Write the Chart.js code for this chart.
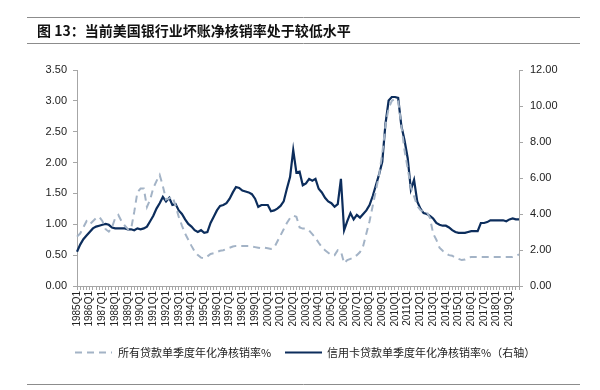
<!DOCTYPE html>
<html>
<head>
<meta charset="utf-8">
<script src="https://cdn.jsdelivr.net/npm/chart.js@4.4.0/dist/chart.umd.min.js"></script>
<style>
  html, body { margin: 0; padding: 0; background: #fff; }
  #wrap { width: 600px; height: 390px; position: relative; }
</style>
</head>
<body>
<div id="wrap"><canvas id="nco"></canvas></div>
<script>
// --- Data (quarterly, 1985Q1 - 2019Q4) ---
const startYear = 1985;
const endYear = 2019;

// All loans, annualized net charge-off rate % (left axis)
const allLoans = [
  0.80, 0.85, 0.95, 1.05, 1.00, 1.05, 1.10, 1.12, 1.05, 0.92,
  0.88, 0.95, 1.10, 1.15, 1.05, 0.98, 0.92, 0.92, 1.20, 1.52,
  1.58, 1.58, 1.28, 1.40, 1.59, 1.70, 1.80, 1.62, 1.40, 1.42,
  1.45, 1.30, 1.12, 0.98, 0.85, 0.75, 0.65, 0.56, 0.50, 0.46,
  0.45, 0.48, 0.52, 0.53, 0.55, 0.57, 0.58, 0.60, 0.62, 0.64,
  0.65, 0.65, 0.65, 0.65, 0.65, 0.64, 0.63, 0.62, 0.61, 0.62,
  0.61, 0.60, 0.62, 0.72, 0.82, 0.92, 1.02, 1.10, 1.14, 1.12,
  0.95, 0.93, 0.93, 0.90, 0.84, 0.78, 0.70, 0.63, 0.58, 0.54,
  0.50, 0.50, 0.58, 0.56, 0.37, 0.42, 0.44, 0.46, 0.50, 0.55,
  0.65, 0.85, 1.05, 1.30, 1.55, 1.80, 2.15, 2.60, 2.88, 3.00,
  3.03, 3.00, 2.60, 2.20, 1.90, 1.60, 1.45, 1.30, 1.23, 1.20,
  1.20, 1.10, 0.85, 0.75, 0.62, 0.57, 0.53, 0.50, 0.49, 0.46,
  0.44, 0.42, 0.43, 0.46, 0.47, 0.47, 0.47, 0.47, 0.47, 0.47,
  0.47, 0.47, 0.47, 0.47, 0.47, 0.47, 0.47, 0.47, 0.49, 0.51
];

// Credit card loans, annualized net charge-off rate % (right axis)
const creditCard = [
  1.90, 2.30, 2.60, 2.80, 3.00, 3.20, 3.30, 3.35, 3.40, 3.45,
  3.40, 3.25, 3.20, 3.20, 3.20, 3.20, 3.15, 3.15, 3.10, 3.20,
  3.15, 3.20, 3.30, 3.60, 3.90, 4.30, 4.60, 4.95, 4.70, 4.90,
  4.50, 4.55, 4.20, 4.00, 3.70, 3.45, 3.30, 3.10, 3.00, 3.10,
  2.95, 3.00, 3.50, 3.85, 4.20, 4.45, 4.50, 4.60, 4.85, 5.20,
  5.50, 5.45, 5.30, 5.25, 5.20, 5.10, 4.85, 4.40, 4.50, 4.50,
  4.50, 4.15, 4.20, 4.30, 4.45, 4.70, 5.40, 6.05, 7.55, 6.30,
  6.35, 5.60, 5.70, 5.95, 5.85, 5.95, 5.40, 5.20, 4.90, 4.70,
  4.60, 4.40, 4.55, 5.95, 3.10, 3.60, 4.05, 3.70, 3.95, 3.80,
  4.00, 4.20, 4.50, 5.00, 5.60, 6.20, 6.90, 9.00, 10.30, 10.50,
  10.50, 10.45, 8.90, 8.10, 7.10, 5.35, 5.90, 4.70, 4.30, 4.05,
  4.00, 3.90, 3.75, 3.50, 3.40, 3.35, 3.35, 3.25, 3.10, 3.00,
  2.95, 2.95, 2.95, 3.00, 3.05, 3.05, 3.05, 3.50, 3.50, 3.55,
  3.65, 3.65, 3.65, 3.65, 3.65, 3.60, 3.70, 3.75, 3.70, 3.70
];

const quarters = [];
for (let y = startYear; y <= endYear; y++) {
  for (let q = 1; q <= 4; q++) quarters.push(y + 'Q' + q);
}

const leftTicks = [0, 0.5, 1, 1.5, 2, 2.5, 3, 3.5];
const rightTicks = [0, 2, 4, 6, 8, 10, 12];

const titleText = '图 13：当前美国银行业坏账净核销率处于较低水平';
const legendAll = '所有贷款单季度年化净核销率%';
const legendCard = '信用卡贷款单季度年化净核销率%（右轴）';

const navy = '#0c2d5c';
const paleBlue = '#a3b3c6';
const axisGray = '#a6a6a6';
const latin = '"Liberation Sans", Arial, sans-serif';
const cjk = '"Noto Sans CJK SC", sans-serif';

// --- Title, rules and legend drawn around the chart ---
const frame = {
  id: 'frame',
  afterDraw(chart) {
    const ctx = chart.ctx;
    ctx.save();
    ctx.strokeStyle = '#8c8c8c';
    ctx.lineWidth = 1;
    [[17.5, 27, 580], [43.5, 27, 580], [384.5, 27, 580]].forEach(([y, x0, x1]) => {
      ctx.beginPath(); ctx.moveTo(x0, y); ctx.lineTo(x1, y); ctx.stroke();
    });

    ctx.fillStyle = '#111';
    ctx.font = 'bold 14px ' + cjk;
    ctx.textBaseline = 'middle';
    ctx.fillText(titleText, 37, 31);

    // legend
    const ly = 352.5;
    ctx.lineWidth = 2;
    ctx.strokeStyle = paleBlue;
    ctx.setLineDash([7, 5]);
    ctx.beginPath(); ctx.moveTo(75, ly); ctx.lineTo(112, ly); ctx.stroke();
    ctx.setLineDash([]);
    ctx.strokeStyle = navy;
    ctx.beginPath(); ctx.moveTo(285, ly); ctx.lineTo(322, ly); ctx.stroke();

    ctx.fillStyle = '#222';
    ctx.font = '11px ' + cjk;
    ctx.fillText(legendAll, 118, ly);
    ctx.fillText(legendCard, 327, ly);
    ctx.restore();
  }
};

const ctx = document.getElementById('nco').getContext('2d');
new Chart(ctx, {
  type: 'line',
  data: {
    labels: quarters,
    datasets: [
      {
        label: legendAll,
        data: allLoans,
        yAxisID: 'yL',
        borderColor: paleBlue,
        borderWidth: 2,
        borderDash: [7, 5],
        pointRadius: 0,
        tension: 0,
        fill: false
      },
      {
        label: legendCard,
        data: creditCard,
        yAxisID: 'yR',
        borderColor: navy,
        borderWidth: 2.2,
        pointRadius: 0,
        tension: 0,
        fill: false
      }
    ]
  },
  options: {
    responsive: true,
    maintainAspectRatio: false,
    animation: false,
    layout: { padding: { top: 70, left: 0, right: 0, bottom: 0 } },
    plugins: {
      legend: { display: false },
      tooltip: { enabled: false }
    },
    scales: {
      x: {
        offset: false,
        grid: { drawOnChartArea: false, tickLength: 4, color: axisGray },
        border: { color: axisGray },
        ticks: {
          autoSkip: false,
          minRotation: 90,
          maxRotation: 90,
          padding: 1,
          color: '#222',
          font: { family: latin, size: 10 },
          callback: function (v, i) {
            const l = quarters[i];
            return l.endsWith('Q1') ? l : '';
          }
        },
        afterFit: s => { s.height = 104; }
      },
      yL: {
        position: 'left',
        min: 0, max: 3.5,
        afterBuildTicks: s => { s.ticks = leftTicks.map(v => ({ value: v })); },
        grid: { drawOnChartArea: false, tickLength: 4, color: axisGray },
        border: { color: axisGray },
        ticks: {
          padding: 6,
          color: '#222',
          font: { family: latin, size: 11 },
          callback: v => v.toFixed(2)
        },
        afterFit: s => { s.width = 77; }
      },
      yR: {
        position: 'right',
        min: 0, max: 12,
        afterBuildTicks: s => { s.ticks = rightTicks.map(v => ({ value: v })); },
        grid: { drawOnChartArea: false, tickLength: 4, color: axisGray },
        border: { color: axisGray },
        ticks: {
          padding: 7,
          color: '#222',
          font: { family: latin, size: 11 },
          callback: v => v.toFixed(2)
        },
        afterFit: s => { s.width = 81; }
      }
    }
  },
  plugins: [frame]
});
</script>
</body>
</html>
